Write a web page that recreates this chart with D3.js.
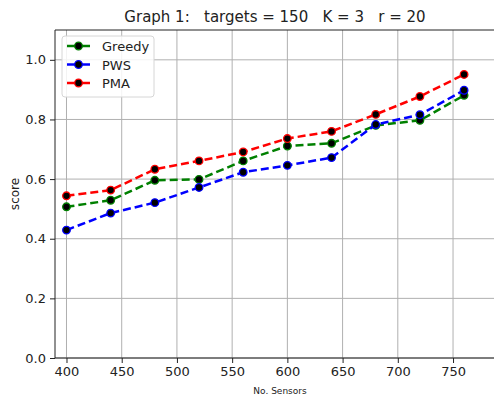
<!DOCTYPE html>
<html>
<head>
<meta charset="utf-8">
<script src="https://cdn.jsdelivr.net/npm/d3@7"></script>
<style>
  body { margin: 0; background: #fff; }
  text { font-family: "DejaVu Sans", sans-serif; fill: #222; }
</style>
</head>
<body>
<div id="plot_area"></div>
<script>
const sensors = [400, 440, 480, 520, 560, 600, 640, 680, 720, 760]
const greedy = [0.507, 0.529, 0.596, 0.599, 0.661, 0.711, 0.720, 0.780, 0.797, 0.881]
const pws = [0.429, 0.486, 0.521, 0.572, 0.623, 0.646, 0.672, 0.783, 0.816, 0.898]
const pma = [0.544, 0.563, 0.633, 0.661, 0.691, 0.736, 0.760, 0.817, 0.877, 0.951]
const xTicks = [400, 450, 500, 550, 600, 650, 700, 750]
const yTicks = [0, 0.2, 0.4, 0.6, 0.8, 1.0]

const seriesList = [
  { name: 'Greedy', values: greedy, color: '#008000' },
  { name: 'PWS', values: pws, color: '#0000ff' },
  { name: 'PMA', values: pma, color: '#ff0000' }
]

const margin = { top: 30, right: 0, bottom: 40, left: 55 },
  svgWidth = 494,
  svgHeight = 398,
  chartWidth = 440,
  chartHeight = svgHeight - margin.top - margin.bottom

const svg = d3.select('#plot_area').append('svg')
  .attr('width', svgWidth)
  .attr('height', svgHeight)

const chartGroup = svg.append('g')
  .attr('transform', `translate(${margin.left}, ${margin.top})`)

const x = d3.scaleLinear().domain([389.6, 788]).range([0, chartWidth])
const y = d3.scaleLinear().domain([0, 1.1]).range([chartHeight, 0])

// grid
chartGroup.append('g')
  .selectAll('line.vx')
  .data(xTicks)
  .enter().append('line')
  .attr('x1', d => x(d)).attr('x2', d => x(d))
  .attr('y1', 0).attr('y2', chartHeight)
  .attr('stroke', '#b0b0b0').attr('stroke-width', 1)

chartGroup.append('g')
  .selectAll('line.hy')
  .data(yTicks)
  .enter().append('line')
  .attr('x1', 0).attr('x2', chartWidth)
  .attr('y1', d => y(d)).attr('y2', d => y(d))
  .attr('stroke', '#b0b0b0').attr('stroke-width', 1)

// axes
const xAxis = chartGroup.append('g')
  .attr('transform', `translate(0, ${chartHeight})`)
  .call(d3.axisBottom(x).tickValues(xTicks).tickSize(5).tickPadding(4).tickFormat(d3.format('d')))
const yAxis = chartGroup.append('g')
  .call(d3.axisLeft(y).tickValues(yTicks).tickSize(5).tickPadding(4).tickFormat(d3.format('.1f')))

;[xAxis, yAxis].forEach(a => {
  a.select('.domain').remove()
  a.selectAll('text').style('font-size', '13px').attr('fill', '#222')
  a.selectAll('line').attr('stroke', '#222')
})

// frame
chartGroup.append('line').attr('x1', 0).attr('x2', 0).attr('y1', 0).attr('y2', chartHeight).attr('stroke', '#222')
chartGroup.append('line').attr('x1', 0).attr('x2', chartWidth).attr('y1', chartHeight).attr('y2', chartHeight).attr('stroke', '#222')
chartGroup.append('line').attr('x1', 0).attr('x2', chartWidth).attr('y1', 0).attr('y2', 0).attr('stroke', '#222')

// lines and markers
const line = d3.line()
  .x((d, i) => x(sensors[i]))
  .y(d => y(d))

seriesList.forEach(s => {
  chartGroup.append('path')
    .datum(s.values)
    .attr('d', line)
    .attr('fill', 'none')
    .attr('stroke', s.color)
    .attr('stroke-width', 2.5)
    .attr('stroke-dasharray', '8,4')

  chartGroup.append('g')
    .selectAll('circle')
    .data(s.values)
    .enter().append('circle')
    .attr('cx', (d, i) => x(sensors[i]))
    .attr('cy', d => y(d))
    .attr('r', 3.8)
    .attr('fill', 'black')
    .attr('stroke', s.color)
    .attr('stroke-width', 1.3)
})

// legend
const legend = chartGroup.append('g').attr('transform', 'translate(7, 6)')
legend.append('rect')
  .attr('width', 92).attr('height', 61).attr('rx', 3)
  .attr('fill', 'white').attr('fill-opacity', 0.85)
  .attr('stroke', '#d6d6d6')

seriesList.forEach((s, i) => {
  const g = legend.append('g').attr('transform', `translate(0, ${10 + i * 18.5})`)
  g.append('line').attr('x1', 5).attr('x2', 28).attr('y1', 0).attr('y2', 0)
    .attr('stroke', s.color).attr('stroke-width', 2.5)
  g.append('circle').attr('cx', 16.5).attr('cy', 0).attr('r', 3.8)
    .attr('fill', 'black').attr('stroke', s.color).attr('stroke-width', 1.3)
  g.append('text').attr('x', 40).attr('y', 5).style('font-size', '13px').text(s.name)
})

// labels
svg.append('text')
  .attr('x', 275).attr('y', 22)
  .attr('text-anchor', 'middle')
  .style('font-size', '15px')
  .attr('xml:space', 'preserve')
  .text('Graph 1:   targets = 150   K = 3   r = 20')

svg.append('text')
  .attr('x', 280).attr('y', 394)
  .attr('text-anchor', 'middle')
  .style('font-size', '9px')
  .text('No. Sensors')

svg.append('text')
  .attr('transform', `translate(19, ${margin.top + chartHeight / 2}) rotate(-90)`)
  .attr('text-anchor', 'middle')
  .style('font-size', '12px')
  .text('score')
</script>
</body>
</html>
